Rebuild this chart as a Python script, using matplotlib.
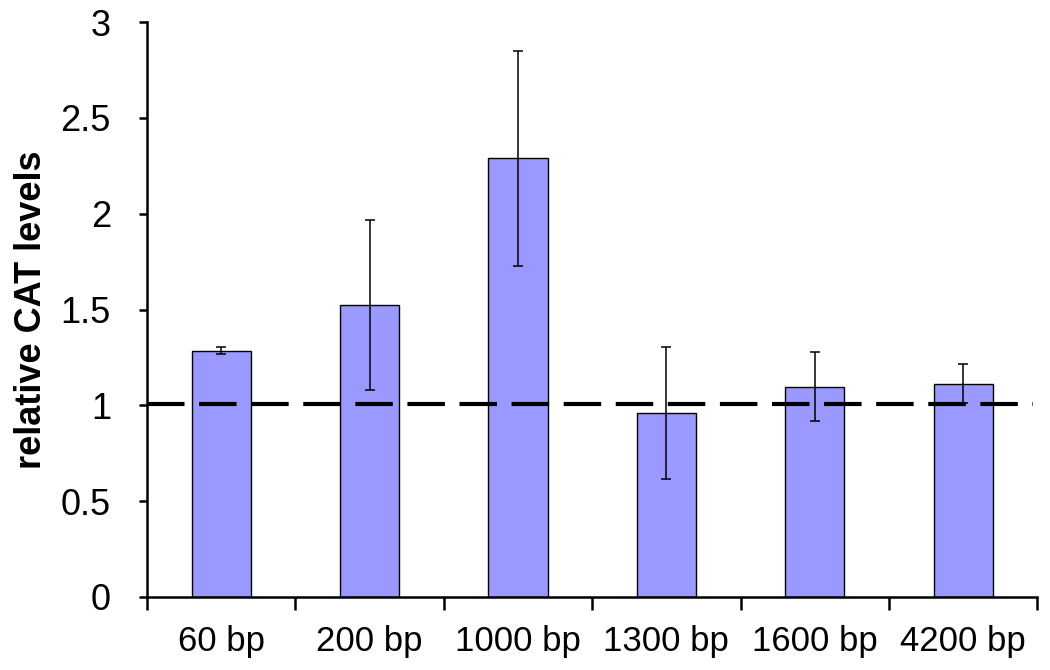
import numpy as np
import matplotlib
matplotlib.use('Agg')
import matplotlib.pyplot as plt

# Data
categories = ['60 bp', '200 bp', '1000 bp', '1300 bp', '1600 bp', '4200 bp']
cat_levels = [1.286, 1.524, 2.290, 0.959, 1.098, 1.113]
cat_errors = [0.017, 0.444, 0.561, 0.345, 0.179, 0.103]
baseline_level = 1.008

plt.rcParams['font.family'] = ['Liberation Sans', 'DejaVu Sans']

fig = plt.figure(figsize=(10.5, 6.7), dpi=100)
ax = fig.add_axes([0.140, 0.109, 0.848, 0.858])

x = np.arange(len(categories))
ax.bar(x, cat_levels, width=0.40, color='#9999FF', edgecolor='black', linewidth=1.0, zorder=2)
ax.errorbar(x, cat_levels, yerr=cat_errors, fmt='none', ecolor='black',
            elinewidth=1.1, capsize=3.3, capthick=1.1, zorder=4)

# dashed reference line
ax.axhline(baseline_level, xmin=0.0, xmax=0.995, color='black', linewidth=3.0,
           dashes=(9, 3.5), zorder=3)

ax.set_xlim(-0.5, len(categories) - 0.5)
ax.set_ylim(0, 3)
ax.set_yticks(np.arange(0, 3.01, 0.5))
ax.set_yticklabels(['0', '0.5', '1', '1.5', '2', '2.5', '3'], fontsize=26)

# Excel style: ticks between categories, labels centered under the bars
ax.set_xticks(np.arange(-0.5, len(categories), 1.0))
ax.set_xticklabels([])
ax.set_xticks(x, minor=True)
ax.set_xticklabels(categories, minor=True, fontsize=25)
ax.tick_params(axis='x', which='minor', length=0, pad=20)
ax.tick_params(axis='x', which='major', length=9, width=1.8, direction='out')
ax.tick_params(axis='y', length=6, width=1.8, direction='out', pad=20)

ax.set_ylabel('relative CAT levels', fontsize=26, fontweight='bold', labelpad=8)

for side in ['top', 'right']:
    ax.spines[side].set_visible(False)
for side in ['left', 'bottom']:
    ax.spines[side].set_linewidth(1.8)

plt.savefig('out.png', dpi=100)
